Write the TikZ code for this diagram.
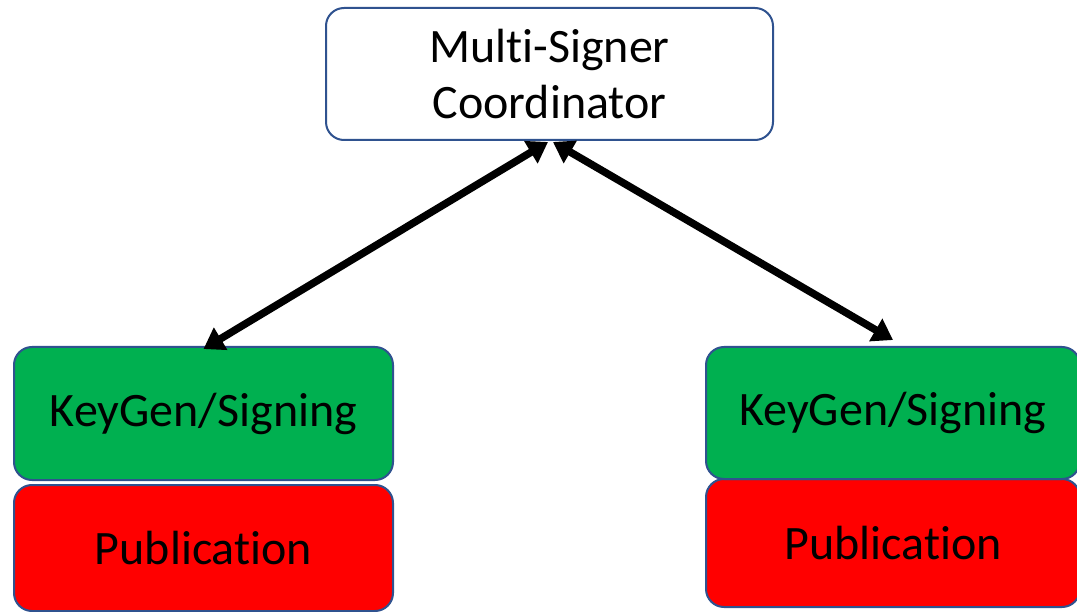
\documentclass[tikz,border=0pt]{standalone}
\usepackage{fontspec}
\setmainfont[Ligatures=NoCommon]{Carlito}
\usetikzlibrary{arrows.meta}
\definecolor{bordblue}{HTML}{2F528F}
\definecolor{boxgreen}{HTML}{00B050}
\definecolor{boxred}{HTML}{FF0000}
\tikzset{
  box/.style={draw=bordblue, line width=2pt, rounded corners=18pt, align=center,
    font=\fontsize{48}{56}\selectfont, inner sep=0pt},
  biarrow/.style={line width=7.5pt, {Triangle[length=20pt,width=25pt]}-{Triangle[length=20pt,width=25pt]}}
}
\begin{document}
\begin{tikzpicture}[x=1pt,y=-1pt]
\useasboundingbox (0,0) rectangle (1077,612);
\clip (0,0) rectangle (1077,612);
\node[box, fill=white, minimum width=447pt, minimum height=132pt] (top) at (549.5,74) {Multi-Signer\\Coordinator};
\node[box, fill=boxgreen, minimum width=379pt, minimum height=133pt] (lg) at (203.5,413.5) {KeyGen/Signing};
\node[box, fill=boxred, minimum width=379pt, minimum height=126pt] (lr) at (203.5,548) {Publication};
\node[box, fill=boxred, minimum width=374pt, minimum height=128pt] (rr) at (893,543) {Publication};
\node[box, fill=boxgreen, minimum width=374pt, minimum height=132pt] (rg) at (893,413) {KeyGen/Signing};
\draw[biarrow] ([xshift=-1.5pt,yshift=-1pt]top.south) -- ([yshift=-3pt]lg.north);
\draw[biarrow] ([xshift=3.5pt,yshift=-1pt]top.south) -- ([yshift=6pt]rg.north);
\end{tikzpicture}
\end{document}
